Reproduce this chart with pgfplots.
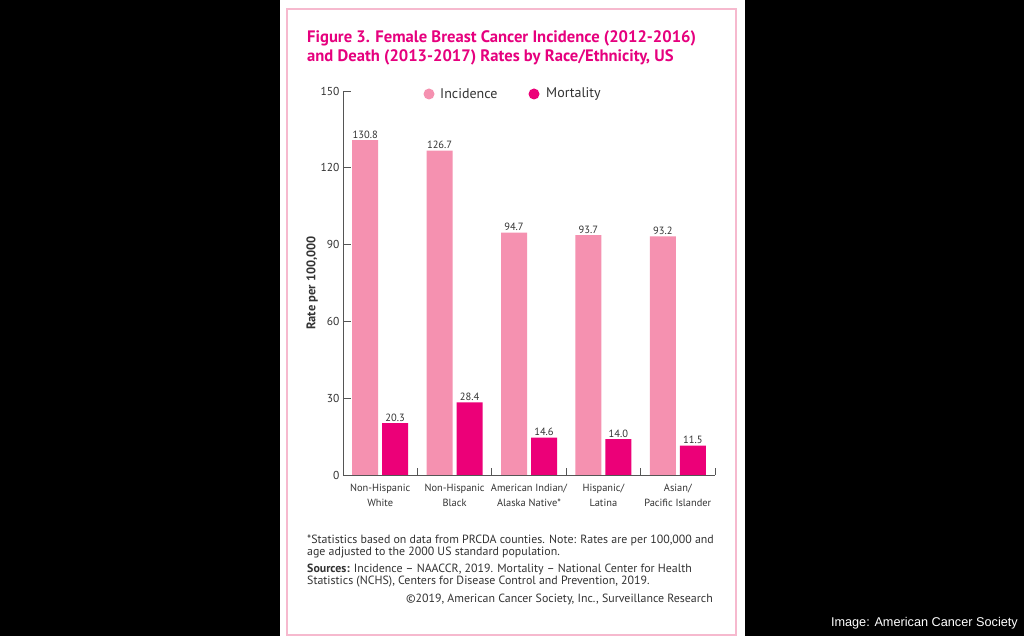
\documentclass[border=0pt]{standalone}
\usepackage{fontspec}
\setmainfont{PT Sans}
\newfontfamily\capfont{Liberation Sans}
\usepackage{pgfplots}
\pgfplotsset{compat=1.18}
\definecolor{incpink}{RGB}{245,145,176}
\definecolor{morpink}{RGB}{236,0,120}
\definecolor{titlepink}{RGB}{230,0,126}
\definecolor{borderpink}{RGB}{246,185,206}
\definecolor{axisgray}{RGB}{85,85,85}
\definecolor{textgray}{RGB}{51,51,51}

\begin{document}
\begin{tikzpicture}[x=1pt,y=1pt]
% page and card
\fill[black] (0,0) rectangle (1024,636);
\fill[white] (280,0) rectangle (745,636);
\draw[borderpink, line width=1.2pt] (287,1) rectangle (736,627);

% title
\node[anchor=base west, inner sep=0, text=titlepink, font=\fontsize{16.6}{19}\selectfont\bfseries]
  at (307,593) {Figure 3. Female Breast Cancer Incidence (2012-2016)};
\node[anchor=base west, inner sep=0, text=titlepink, font=\fontsize{16.6}{19}\selectfont\bfseries]
  at (307,574) {and Death (2013-2017) Rates by Race/Ethnicity, US};

\begin{axis}[
    at={(343pt,161pt)}, anchor=south west,
    scale only axis, width=372pt, height=384pt,
    xmin=-0.5, xmax=4.5, ymin=0, ymax=150,
    ybar=4pt, bar width=26pt,
    axis lines=left, axis line style={-, draw=axisgray, line width=0.8pt},
    clip=false,
    ytick={0,30,60,90,120,150},
    xtick={0,1,2,3,4},
    xticklabels={{Non-Hispanic\\White},{Non-Hispanic\\Black},{American Indian/\\Alaska Native*},{Hispanic/\\Latina},{Asian/\\Pacific Islander}},
    minor xtick={0.5,1.5,2.5,3.5,4.5},
    major x tick style={draw=none},
    tick align=inside,
    major tick length=8pt, minor tick length=7pt,
    tick style={draw=axisgray, line width=0.8pt},
    /pgf/number format/assume math mode=true,
    yticklabel style={font=\fontsize{11.5}{12}\selectfont, text=textgray},
    xticklabel style={align=center, font=\fontsize{10.4}{15}\selectfont, text=textgray, yshift=-6pt},
    ylabel={Rate per 100,000},
    ylabel shift=-4pt,
    ylabel style={font=\fontsize{12.5}{13}\selectfont\bfseries, text=textgray},
    nodes near coords={\pgfmathprintnumber[fixed,fixed zerofill,precision=1]{\pgfplotspointmeta}},
    nodes near coords style={font=\fontsize{10.5}{11}\selectfont, text=textgray, inner sep=1.5pt},
]
\addplot[fill=incpink, draw=none]
  coordinates {(0,130.8) (1,126.7) (2,94.7) (3,93.7) (4,93.2)};
\addplot[fill=morpink, draw=none]
  coordinates {(0,20.3) (1,28.4) (2,14.6) (3,14.0) (4,11.5)};
\end{axis}

% legend
\fill[incpink] (429,542) circle (5.5);
\node[anchor=west, inner sep=0, text=textgray, font=\fontsize{14}{15}\selectfont] at (440,542) {Incidence};
\fill[morpink] (534,542) circle (5.5);
\node[anchor=west, inner sep=0, text=textgray, font=\fontsize{14}{15}\selectfont] at (546,542) {Mortality};

% notes
\begin{scope}[every node/.style={anchor=base west, inner sep=0, text=textgray, font=\fontsize{11.9}{13}\selectfont}]
\node at (307,92) {*Statistics based on data from PRCDA counties. Note: Rates are per 100,000 and};
\node at (307,80) {age adjusted to the 2000 US standard population.};
\node at (307,63) {\textbf{Sources:} Incidence -- NAACCR, 2019. Mortality -- National Center for Health};
\node at (307,51) {Statistics (NCHS), Centers for Disease Control and Prevention, 2019.};
\node[anchor=base east] at (713,33) {\textcopyright2019, American Cancer Society, Inc., Surveillance Research};
\end{scope}

\node[anchor=base east, inner sep=0, text=white, font=\capfont\fontsize{12.7}{13}\selectfont] at (1018,9) {Image: American Cancer Society};
\end{tikzpicture}
\end{document}
